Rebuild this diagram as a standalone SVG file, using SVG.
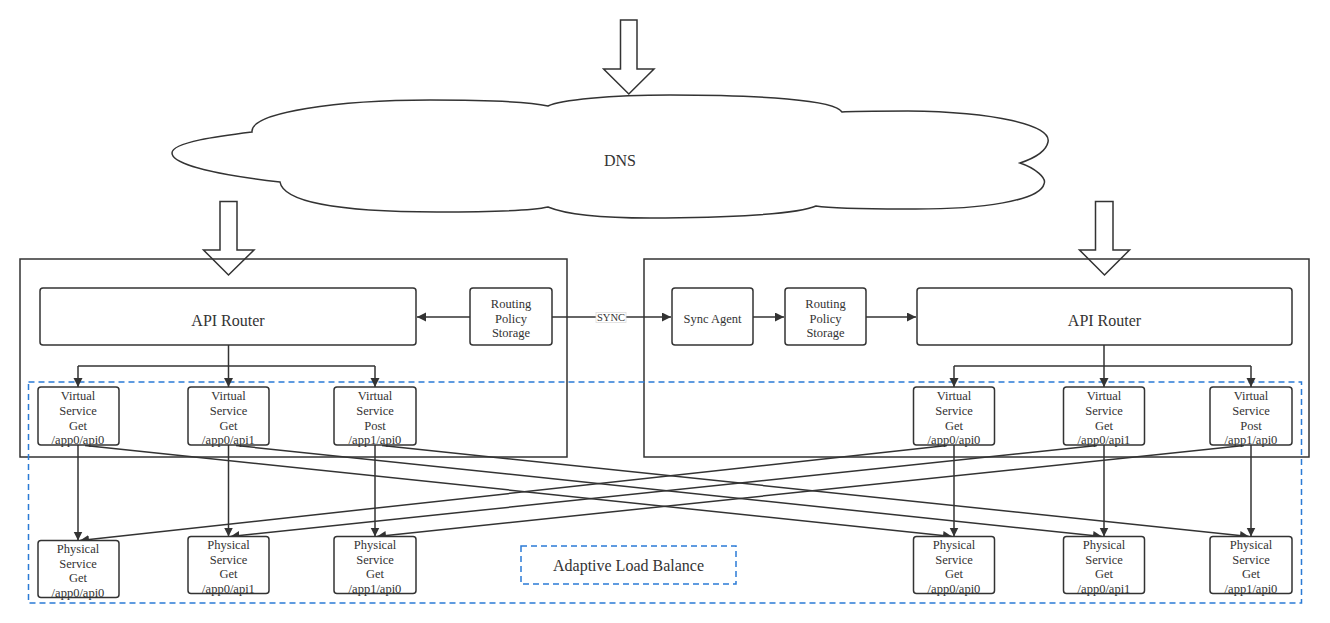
<svg xmlns="http://www.w3.org/2000/svg" width="1330" height="623" viewBox="0 0 1330 623" font-family="'Liberation Serif', 'Times New Roman', serif">
<style>
.frame{fill:none;stroke:#333;stroke-width:1.5}
.box{fill:#fff;stroke:#333;stroke-width:1.5}
.big{fill:#fff;stroke:#333;stroke-width:1.5}
.dash{fill:none;stroke:#2b7bd6;stroke-width:1.5;stroke-dasharray:6 4}
.ln{fill:none;stroke:#333;stroke-width:1.5}
.arr{marker-end:url(#ah)}
.lbl{font-family:'Liberation Serif','Times New Roman',serif;fill:#333;text-anchor:middle}
.t13{font-size:12.5px}
.t16{font-size:16px}
</style>
<defs>
<marker id="ah" markerUnits="userSpaceOnUse" markerWidth="10" markerHeight="10" refX="9" refY="4.5" orient="auto">
<path d="M0,0 L9,4.5 L0,9 z" fill="#333"/>
</marker>
</defs>
<rect width="1330" height="623" fill="#fff"/>

<g id="dns">
<path class="big" d="M252,132 C250,112 340,100 430,100 C490,100 530,102 548,106 C560,100 610,95 670,95 C760,95 835,100 842,112 C852,111 880,111 908,111 C995,112 1052,125 1048,142 C1046,152 1035,158 1020,163 C1035,168 1047,178 1044,184 C1040,200 985,210 904,209 C860,209 828,208 816,206 C798,214 730,218 650,218 C590,218 560,212 548,207 C535,210 500,212 437,212 C330,212 283,200 280,182 C220,175 172,165 172,153 C172,142 220,136 252,132 Z"/>
<text class="lbl t16" x="620" y="165.5">DNS</text>
</g>

<g id="big-arrows">
<polygon class="big" points="620.5,20 637,20 637,69 654,69 628.8,94 603.6,69 620.5,69"/>
<polygon class="big" points="220,201.5 237,201.5 237,250 254,250 228.5,275 203.5,250 220,250"/>
<polygon class="big" points="1095.5,201.5 1113,201.5 1113,250 1129.5,250 1104.5,275 1079.5,250 1095.5,250"/>
</g>

<g id="left-site"><rect class="frame" x="20" y="259" width="547" height="198"/></g>
<g id="right-site"><rect class="frame" x="644" y="259" width="665" height="198"/></g>

<g id="adaptive-region"><rect class="dash" x="28.5" y="382" width="1273" height="221"/></g>

<g id="connectors">
<line class="ln arr" x1="470" y1="317" x2="417" y2="317"/>
<line class="ln arr" x1="552" y1="317" x2="671" y2="317"/>
<line class="ln arr" x1="753" y1="317" x2="784" y2="317"/>
<line class="ln arr" x1="866" y1="317" x2="916" y2="317"/>
<polyline class="ln" points="228.5,345 228.5,366"/>
<polyline class="ln" points="78,366 375,366"/>
<line class="ln arr" x1="78" y1="366" x2="78" y2="387"/>
<line class="ln arr" x1="228.5" y1="366" x2="228.5" y2="387"/>
<line class="ln arr" x1="375" y1="366" x2="375" y2="387"/>
<polyline class="ln" points="1104,345 1104,366"/>
<polyline class="ln" points="954,366 1251,366"/>
<line class="ln arr" x1="954" y1="366" x2="954" y2="387"/>
<line class="ln arr" x1="1104" y1="366" x2="1104" y2="387"/>
<line class="ln arr" x1="1251" y1="366" x2="1251" y2="387"/>
<line class="ln arr" x1="78" y1="445" x2="78" y2="540.5"/>
<line class="ln arr" x1="228.5" y1="445" x2="228.5" y2="536.5"/>
<line class="ln arr" x1="375" y1="445" x2="375" y2="536.5"/>
<line class="ln arr" x1="954" y1="445" x2="954" y2="536.5"/>
<line class="ln arr" x1="1104" y1="445" x2="1104" y2="536.5"/>
<line class="ln arr" x1="1251" y1="445" x2="1251" y2="536.5"/>
<line class="ln arr" x1="85" y1="445.5" x2="952" y2="536.5"/>
<line class="ln arr" x1="236" y1="445.5" x2="1102" y2="536.5"/>
<line class="ln arr" x1="382" y1="445.5" x2="1249" y2="536.5"/>
<line class="ln arr" x1="947" y1="445.5" x2="80" y2="540.5"/>
<line class="ln arr" x1="1097" y1="445.5" x2="230.5" y2="536.5"/>
<line class="ln arr" x1="1244" y1="445.5" x2="377" y2="536.5"/>
<rect x="596" y="312.5" width="30" height="10" fill="#fff" stroke="#ddd" stroke-width="0.8"/>
<text class="lbl" x="611" y="321" style="font-size:10.5px">SYNC</text>
</g>

<g id="api-router-left">
<rect class="box" x="40" y="288" width="376" height="57" rx="3"/>
<text class="lbl t16" x="228" y="325.5">API Router</text>
</g>
<g id="rps-left">
<rect class="box" x="470" y="288" width="82" height="57" rx="3"/>
<text class="lbl t13" x="511" y="307.5">Routing</text>
<text class="lbl t13" x="511" y="322.5">Policy</text>
<text class="lbl t13" x="511" y="337">Storage</text>
</g>
<g id="sync-agent">
<rect class="box" x="672" y="288" width="81" height="57" rx="3"/>
<text class="lbl t13" x="712.5" y="322.5">Sync Agent</text>
</g>
<g id="rps-right">
<rect class="box" x="785" y="288" width="81" height="57" rx="3"/>
<text class="lbl t13" x="825.5" y="307.5">Routing</text>
<text class="lbl t13" x="825.5" y="322.5">Policy</text>
<text class="lbl t13" x="825.5" y="337">Storage</text>
</g>
<g id="api-router-right">
<rect class="box" x="917" y="288" width="375" height="57" rx="3"/>
<text class="lbl t16" x="1104.5" y="325.5">API Router</text>
</g>

<g id="vs-l1">
<rect class="box" x="38" y="387" width="81" height="58" rx="3"/>
<text class="lbl t13" x="78" y="400">Virtual</text><text class="lbl t13" x="78" y="415">Service</text><text class="lbl t13" x="78" y="429.5">Get</text><text class="lbl t13" x="78" y="444">/app0/api0</text>
</g>
<g id="vs-l2">
<rect class="box" x="188" y="387" width="81" height="58" rx="3"/>
<text class="lbl t13" x="228.5" y="400">Virtual</text><text class="lbl t13" x="228.5" y="415">Service</text><text class="lbl t13" x="228.5" y="429.5">Get</text><text class="lbl t13" x="228.5" y="444">/app0/api1</text>
</g>
<g id="vs-l3">
<rect class="box" x="334" y="387" width="82" height="58" rx="3"/>
<text class="lbl t13" x="375" y="400">Virtual</text><text class="lbl t13" x="375" y="415">Service</text><text class="lbl t13" x="375" y="429.5">Post</text><text class="lbl t13" x="375" y="444">/app1/api0</text>
</g>
<g id="vs-r1">
<rect class="box" x="913.5" y="387" width="81" height="58" rx="3"/>
<text class="lbl t13" x="954" y="400">Virtual</text><text class="lbl t13" x="954" y="415">Service</text><text class="lbl t13" x="954" y="429.5">Get</text><text class="lbl t13" x="954" y="444">/app0/api0</text>
</g>
<g id="vs-r2">
<rect class="box" x="1063.5" y="387" width="81" height="58" rx="3"/>
<text class="lbl t13" x="1104" y="400">Virtual</text><text class="lbl t13" x="1104" y="415">Service</text><text class="lbl t13" x="1104" y="429.5">Get</text><text class="lbl t13" x="1104" y="444">/app0/api1</text>
</g>
<g id="vs-r3">
<rect class="box" x="1210" y="387" width="82" height="58" rx="3"/>
<text class="lbl t13" x="1251" y="400">Virtual</text><text class="lbl t13" x="1251" y="415">Service</text><text class="lbl t13" x="1251" y="429.5">Post</text><text class="lbl t13" x="1251" y="444">/app1/api0</text>
</g>

<g id="ps-l1">
<rect class="box" x="38" y="540.5" width="81" height="57" rx="3"/>
<text class="lbl t13" x="78" y="552.5">Physical</text><text class="lbl t13" x="78" y="567.5">Service</text><text class="lbl t13" x="78" y="582">Get</text><text class="lbl t13" x="78" y="597">/app0/api0</text>
</g>
<g id="ps-l2">
<rect class="box" x="188" y="536.5" width="81" height="57" rx="3"/>
<text class="lbl t13" x="228.5" y="548.5">Physical</text><text class="lbl t13" x="228.5" y="563.5">Service</text><text class="lbl t13" x="228.5" y="578">Get</text><text class="lbl t13" x="228.5" y="593">/app0/api1</text>
</g>
<g id="ps-l3">
<rect class="box" x="334" y="536.5" width="82" height="57" rx="3"/>
<text class="lbl t13" x="375" y="548.5">Physical</text><text class="lbl t13" x="375" y="563.5">Service</text><text class="lbl t13" x="375" y="578">Get</text><text class="lbl t13" x="375" y="593">/app1/api0</text>
</g>
<g id="ps-r1">
<rect class="box" x="913.5" y="536.5" width="81" height="57" rx="3"/>
<text class="lbl t13" x="954" y="548.5">Physical</text><text class="lbl t13" x="954" y="563.5">Service</text><text class="lbl t13" x="954" y="578">Get</text><text class="lbl t13" x="954" y="593">/app0/api0</text>
</g>
<g id="ps-r2">
<rect class="box" x="1063.5" y="536.5" width="81" height="57" rx="3"/>
<text class="lbl t13" x="1104" y="548.5">Physical</text><text class="lbl t13" x="1104" y="563.5">Service</text><text class="lbl t13" x="1104" y="578">Get</text><text class="lbl t13" x="1104" y="593">/app0/api1</text>
</g>
<g id="ps-r3">
<rect class="box" x="1210" y="536.5" width="82" height="57" rx="3"/>
<text class="lbl t13" x="1251" y="548.5">Physical</text><text class="lbl t13" x="1251" y="563.5">Service</text><text class="lbl t13" x="1251" y="578">Get</text><text class="lbl t13" x="1251" y="593">/app1/api0</text>
</g>

<g id="adaptive-label">
<rect class="dash" x="521" y="546" width="215" height="38" style="fill:#fff"/>
<text class="lbl t16" x="628.5" y="570.5">Adaptive Load Balance</text>
</g>
</svg>
